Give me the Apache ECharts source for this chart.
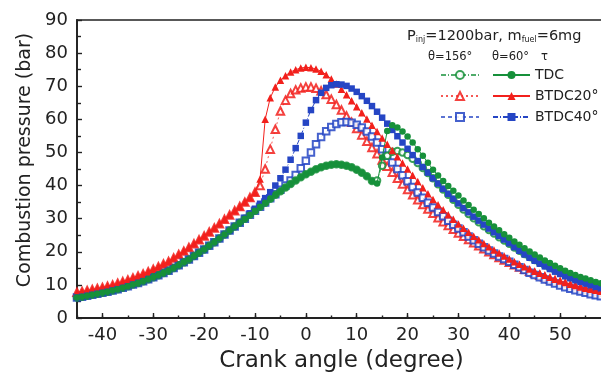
<!DOCTYPE html>
<html>
<head>
<meta charset="utf-8">
<title>Combustion pressure vs crank angle</title>
<script src="https://cdn.jsdelivr.net/npm/echarts@6/dist/echarts.min.js"></script>
<style>
  html, body { margin: 0; padding: 0; background: #fff; }
  #chart { width: 601px; height: 378px; }
</style>
</head>
<body>
<div id="chart"></div>
<script>
// Crank angle samples (degree), one per degree
const crankAngle = [
  -45,-44,-43,-42,-41,-40,-39,-38,-37,-36,-35,-34,-33,-32,-31,-30,-29,-28,-27,-26,
  -25,-24,-23,-22,-21,-20,-19,-18,-17,-16,-15,-14,-13,-12,-11,-10,-9,-8,-7,-6,
  -5,-4,-3,-2,-1,0,1,2,3,4,5,6,7,8,9,10,11,12,13,14,
  15,16,17,18,19,20,21,22,23,24,25,26,27,28,29,30,31,32,33,34,
  35,36,37,38,39,40,41,42,43,44,45,46,47,48,49,50,51,52,53,54,
  55,56,57,58,59,60
];

// Compression stroke shared by TDC and BTDC40° injection, -45 .. -13
const compressionBase = [
  6.2,6.4,6.7,7.0,7.3,7.6,7.9,8.3,8.7,9.1,
  9.6,10.1,10.6,11.1,11.7,12.3,12.9,13.6,14.3,15.1,
  15.9,16.8,17.7,18.7,19.7,20.7,21.8,22.9,24.0,25.2,
  26.4,27.6,28.8
];
// TDC injection before ignition, -12 .. 13
const tdcEarly = [
  30.0,31.2,32.4,33.6,34.8,36.0,37.2,38.3,39.4,40.5,
  41.5,42.5,43.4,44.2,44.9,45.5,46.0,46.3,46.4,46.3,
  46.0,45.5,44.8,43.9,42.8,41.4
];
// TDC, θ=60°, 14 .. 60
const tdc60Late = [
  40.6,48.5,56.5,58.2,57.5,56.3,54.8,53.0,51.0,49.0,
  46.9,44.8,43.0,41.4,39.9,38.4,37.0,35.5,34.1,32.7,
  31.4,30.1,28.8,27.6,26.5,25.3,24.2,23.1,22.1,21.1,
  20.1,19.2,18.3,17.4,16.6,15.8,15.0,14.3,13.6,13.0,
  12.4,11.9,11.4,10.9,10.5,10.1,9.7
];
// TDC, θ=156°, 14 .. 60
const tdc156Late = [
  41.5,46.0,49.0,50.2,50.4,50.0,49.2,48.1,46.8,45.3,
  43.8,42.2,40.4,38.8,37.2,35.7,34.2,32.8,31.4,30.1,
  28.9,27.7,26.6,25.5,24.4,23.4,22.4,21.3,20.3,19.3,
  18.4,17.5,16.7,15.9,15.1,14.4,13.7,13.0,12.4,11.8,
  11.3,10.8,10.3,9.9,9.5,9.1,8.7
];
// BTDC40°, θ=60°, -12 .. 60
const btdc40_60Late = [
  30.2,31.6,33.0,34.5,36.2,38.0,40.0,42.2,44.8,47.8,
  51.3,55.0,59.0,62.8,65.8,68.0,69.5,70.3,70.6,70.5,
  70.1,69.3,68.3,67.0,65.6,64.0,62.3,60.5,58.7,56.8,
  54.9,53.0,51.1,49.2,47.4,45.6,43.9,42.2,40.6,39.0,
  37.5,36.0,34.6,33.2,31.9,30.6,29.4,28.2,27.0,25.9,
  24.8,23.7,22.6,21.4,20.3,19.2,18.2,17.3,16.4,15.6,
  14.8,14.0,13.3,12.6,12.0,11.4,10.9,10.4,9.9,9.4,
  9.0,8.6,8.3
];
// BTDC40°, θ=156°, -12 .. 60
const btdc40_156Late = [
  30.0,31.2,32.4,33.6,34.9,36.2,37.4,38.7,40.0,41.5,
  43.2,45.2,47.5,50.0,52.5,54.7,56.4,57.7,58.6,59.1,
  59.2,59.0,58.4,57.5,56.3,54.8,53.0,51.0,49.0,47.0,
  45.0,43.1,41.3,39.6,37.9,36.3,34.8,33.4,32.0,30.7,
  29.4,28.2,27.0,25.9,24.6,23.5,22.4,21.4,20.4,19.5,
  18.6,17.8,17.0,16.1,15.3,14.5,13.7,13.0,12.3,11.6,
  11.0,10.4,9.8,9.3,8.8,8.4,8.0,7.6,7.2,6.9,
  6.6,6.3,6.0
];
// Compression stroke with BTDC20° injection, -45 .. -10
const compressionBtdc20 = [
  7.8,8.0,8.3,8.6,8.9,9.2,9.6,10.0,10.5,11.0,
  11.5,12.1,12.7,13.3,14.0,14.7,15.5,16.3,17.1,18.1,
  19.2,20.2,21.3,22.4,23.6,24.8,26.0,27.2,28.5,29.8,
  31.1,32.4,33.7,35.0,36.4,38.0
];
// BTDC20°, θ=60°, -9 .. 60
const btdc20_60Late = [
  42.0,60.0,66.5,69.8,71.8,73.2,74.3,75.0,75.5,75.7,
  75.6,75.2,74.5,73.5,72.2,70.7,69.1,67.4,65.6,63.8,
  62.0,60.1,58.2,56.3,54.4,52.5,50.6,48.7,46.8,45.0,
  43.1,41.2,39.3,37.5,35.8,34.2,32.7,31.2,29.8,28.4,
  27.1,25.9,24.7,23.6,22.5,21.5,20.5,19.6,18.7,17.8,
  17.0,16.2,15.5,14.8,14.1,13.5,12.9,12.3,11.7,11.2,
  10.7,10.2,9.8,9.4,9.0,8.7,8.4,8.1,7.8,7.5
];
// BTDC20°, θ=156°, -9 .. 60
const btdc20_156Late = [
  40.0,45.0,51.0,57.0,62.5,65.8,67.8,68.9,69.5,69.8,
  69.8,69.4,68.6,67.5,66.1,64.5,62.8,61.0,59.1,57.2,
  55.3,53.4,51.5,49.6,47.7,45.8,44.0,42.2,40.5,38.8,
  37.2,35.7,34.3,32.9,31.6,30.3,29.1,27.9,26.8,25.7,
  24.7,23.7,22.7,21.8,20.9,20.0,19.2,18.3,17.5,16.8,
  16.1,15.4,14.7,14.1,13.5,12.9,12.4,11.8,11.3,10.8,
  10.4,9.9,9.5,9.1,8.7,8.4,8.0,7.7,7.4,7.1
];

const pressureTDC60 = compressionBase.concat(tdcEarly, tdc60Late);
const pressureTDC156 = compressionBase.concat(tdcEarly, tdc156Late);
const pressureBTDC40_60 = compressionBase.concat(btdc40_60Late);
const pressureBTDC40_156 = compressionBase.concat(btdc40_156Late);
const pressureBTDC20_60 = compressionBtdc20.concat(btdc20_60Late);
const pressureBTDC20_156 = compressionBtdc20.concat(btdc20_156Late);

const xMajorTicks = [-40, -30, -20, -10, 0, 10, 20, 30, 40, 50, 60];

const GREEN = '#16903a';
const RED = '#f2201c';
const BLUE = '#2545c4';
const INK = '#222';
const FONT = 'DejaVu Sans';

function pairs(values) {
  return crankAngle.map((a, i) => [a, values[i]]);
}

const legendText = {
  'TDC θ=60°': 'TDC',
  'BTDC20° θ=60°': 'BTDC20°',
  'BTDC40° θ=60°': 'BTDC40°'
};

function lineSeries(name, values, color, symbol, size, lineType, hollow) {
  return {
    name: name,
    type: 'line',
    data: pairs(values),
    symbol: symbol,
    symbolSize: size,
    showSymbol: true,
    showAllSymbol: true,
    lineStyle: { color: color, width: 1, type: lineType, opacity: hollow ? 0.75 : 1 },
    itemStyle: { color: color, borderColor: color, borderWidth: hollow ? 1.1 : 0, opacity: hollow ? 0.85 : 1 },
    emphasis: { disabled: true },
    animation: false,
    z: hollow ? 2 : 3
  };
}

const chart = echarts.init(document.getElementById('chart'), null, { renderer: 'canvas' });

chart.setOption({
  backgroundColor: '#fff',
  animation: false,
  grid: {
    left: 77, top: 20, width: 534, height: 298,
    outerBoundsMode: 'none',
    containLabel: false,
    show: true, borderColor: INK, borderWidth: 1.6
  },
  xAxis: [{
    type: 'value',
    min: -45, max: 60, interval: 5,
    name: 'Crank angle (degree)',
    nameLocation: 'middle',
    nameGap: 32,
    nameTextStyle: { fontFamily: FONT, fontSize: 23, color: INK, padding: [0, 5, 0, 0] },
    axisLine: { onZero: false, lineStyle: { color: INK, width: 1.8 } },
    axisTick: { inside: true, length: 2.5, lineStyle: { color: INK, width: 1.4 } },
    axisLabel: {
      margin: 8, fontFamily: FONT, fontSize: 18, color: INK,
      formatter: v => (v % 10 === 0 && v > -45 && v < 60 ? String(v) : '')
    },
    splitLine: { show: false }
  }, {
    type: 'value',
    min: -45, max: 60,
    position: 'bottom',
    axisLine: { show: false, onZero: false },
    axisTick: { show: true, inside: true, length: 5, customValues: xMajorTicks, lineStyle: { color: INK, width: 1.4 } },
    axisLabel: { show: false },
    splitLine: { show: false }
  }],
  yAxis: {
    type: 'value',
    min: 0, max: 90, interval: 10,
    name: 'Combustion pressure (bar)',
    nameLocation: 'middle',
    nameRotate: 90,
    nameGap: 41,
    nameTextStyle: { fontFamily: FONT, fontSize: 19, color: INK, padding: [0, 0, 0, 18] },
    axisLine: { onZero: false, lineStyle: { color: INK, width: 1.8 } },
    axisTick: { inside: true, length: 5, lineStyle: { color: INK, width: 1.4 } },
    minorTick: { show: true, splitNumber: 2, length: 4, lineStyle: { color: INK, width: 1.4 } },
    axisLabel: { margin: 9, fontFamily: FONT, fontSize: 18, color: INK },
    splitLine: { show: false }
  },
  legend: [{
    data: ['TDC θ=156°', 'BTDC20° θ=156°', 'BTDC40° θ=156°'],
    orient: 'vertical',
    left: 435, top: 63,
    itemWidth: 38, itemHeight: 10, itemGap: 7,
    selectedMode: false,
    formatter: () => ' ',
    textStyle: { fontFamily: FONT, fontSize: 14, lineHeight: 10, color: INK }
  }, {
    data: ['TDC θ=60°', 'BTDC20° θ=60°', 'BTDC40° θ=60°'],
    orient: 'vertical',
    left: 487, top: 63,
    itemWidth: 37, itemHeight: 10, itemGap: 7,
    selectedMode: false,
    formatter: name => legendText[name],
    textStyle: { fontFamily: FONT, fontSize: 14, lineHeight: 10, color: INK }
  }],
  graphic: [{
    type: 'text',
    left: 407, top: 29,
    style: {
      text: 'P{sub|inj}=1200bar, m{sub|fuel}=6mg',
      fontFamily: FONT, fontSize: 14.5, fill: INK,
      rich: { sub: { fontFamily: FONT, fontSize: 8, fill: INK, verticalAlign: 'bottom', padding: [6, 0, 0, 0] } }
    }
  }, {
    type: 'text', left: 428, top: 51,
    style: { text: 'θ=156°', fontFamily: FONT, fontSize: 11.5, fill: INK }
  }, {
    type: 'text', left: 492, top: 51,
    style: { text: 'θ=60°', fontFamily: FONT, fontSize: 11.5, fill: INK }
  }, {
    type: 'text', left: 541, top: 51,
    style: { text: 'τ', fontFamily: FONT, fontSize: 11.5, fill: INK }
  }],
  series: [
    lineSeries('BTDC20° θ=156°', pressureBTDC20_156, RED, 'emptyTriangle', 7.5, [2, 3], true),
    lineSeries('BTDC40° θ=156°', pressureBTDC40_156, BLUE, 'emptyRect', 6.5, [4, 3], true),
    lineSeries('TDC θ=156°', pressureTDC156, GREEN, 'emptyCircle', 6.5, [5, 2, 1, 2], true),
    lineSeries('BTDC20° θ=60°', pressureBTDC20_60, RED, 'triangle', 7.5, 'solid', false),
    lineSeries('BTDC40° θ=60°', pressureBTDC40_60, BLUE, 'rect', 6.5, [5, 2, 1, 2], false),
    lineSeries('TDC θ=60°', pressureTDC60, GREEN, 'circle', 6.5, 'solid', false)
  ]
});
</script>
</body>
</html>
